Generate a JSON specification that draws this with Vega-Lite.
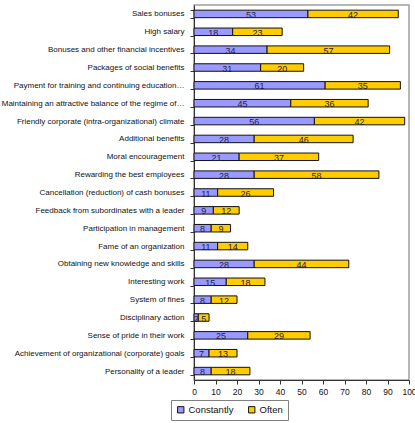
{
  "$schema": "https://vega.github.io/schema/vega-lite/v6.json",
  "description": "Stacked horizontal bars: how often each motivation method is used (Constantly / Often).",
  "autosize": "none",
  "padding": {"left": 194, "top": 5, "right": 6, "bottom": 43},
  "width": 215,
  "height": 375,
  "config": {
    "font": "Liberation Sans",
    "view": {"stroke": "#a0a0a0", "strokeWidth": 1.5},
    "axis": {"labelFont": "Liberation Sans", "labelFontSize": 8, "labelColor": "#111", "domainColor": "#333", "tickColor": "#333", "tickSize": 4, "grid": false},
    "axisX": {"labelOverlap": false, "labelFlush": false, "labelFontSize": 8.5, "labelPadding": 3}
  },
  "data": {
    "values": [
      {"item": "Sales bonuses", "series": "Constantly", "value": 53},
      {"item": "Sales bonuses", "series": "Often", "value": 42},
      {"item": "High salary", "series": "Constantly", "value": 18},
      {"item": "High salary", "series": "Often", "value": 23},
      {"item": "Bonuses and other financial incentives", "series": "Constantly", "value": 34},
      {"item": "Bonuses and other financial incentives", "series": "Often", "value": 57},
      {"item": "Packages of social benefits", "series": "Constantly", "value": 31},
      {"item": "Packages of social benefits", "series": "Often", "value": 20},
      {"item": "Payment for training and continuing education…", "series": "Constantly", "value": 61},
      {"item": "Payment for training and continuing education…", "series": "Often", "value": 35},
      {"item": "Maintaining an attractive balance of the regime of…", "series": "Constantly", "value": 45},
      {"item": "Maintaining an attractive balance of the regime of…", "series": "Often", "value": 36},
      {"item": "Friendly corporate (intra-organizational) climate", "series": "Constantly", "value": 56},
      {"item": "Friendly corporate (intra-organizational) climate", "series": "Often", "value": 42},
      {"item": "Additional benefits", "series": "Constantly", "value": 28},
      {"item": "Additional benefits", "series": "Often", "value": 46},
      {"item": "Moral encouragement", "series": "Constantly", "value": 21},
      {"item": "Moral encouragement", "series": "Often", "value": 37},
      {"item": "Rewarding the best employees", "series": "Constantly", "value": 28},
      {"item": "Rewarding the best employees", "series": "Often", "value": 58},
      {"item": "Cancellation (reduction) of cash bonuses", "series": "Constantly", "value": 11},
      {"item": "Cancellation (reduction) of cash bonuses", "series": "Often", "value": 26},
      {"item": "Feedback from subordinates with a leader", "series": "Constantly", "value": 9},
      {"item": "Feedback from subordinates with a leader", "series": "Often", "value": 12},
      {"item": "Participation in management", "series": "Constantly", "value": 8},
      {"item": "Participation in management", "series": "Often", "value": 9},
      {"item": "Fame of an organization", "series": "Constantly", "value": 11},
      {"item": "Fame of an organization", "series": "Often", "value": 14},
      {"item": "Obtaining new knowledge and skills", "series": "Constantly", "value": 28},
      {"item": "Obtaining new knowledge and skills", "series": "Often", "value": 44},
      {"item": "Interesting work", "series": "Constantly", "value": 15},
      {"item": "Interesting work", "series": "Often", "value": 18},
      {"item": "System of fines", "series": "Constantly", "value": 8},
      {"item": "System of fines", "series": "Often", "value": 12},
      {"item": "Disciplinary action", "series": "Constantly", "value": 2},
      {"item": "Disciplinary action", "series": "Often", "value": 5},
      {"item": "Sense of pride in their work", "series": "Constantly", "value": 25},
      {"item": "Sense of pride in their work", "series": "Often", "value": 29},
      {"item": "Achievement of organizational (corporate) goals", "series": "Constantly", "value": 7},
      {"item": "Achievement of organizational (corporate) goals", "series": "Often", "value": 13},
      {"item": "Personality of a leader", "series": "Constantly", "value": 8},
      {"item": "Personality of a leader", "series": "Often", "value": 18}
    ]
  },
  "encoding": {
    "y": {
      "field": "item",
      "type": "nominal",
      "title": null,
      "sort": [
        "Sales bonuses", "High salary", "Bonuses and other financial incentives", "Packages of social benefits",
        "Payment for training and continuing education…", "Maintaining an attractive balance of the regime of…",
        "Friendly corporate (intra-organizational) climate", "Additional benefits", "Moral encouragement",
        "Rewarding the best employees", "Cancellation (reduction) of cash bonuses", "Feedback from subordinates with a leader",
        "Participation in management", "Fame of an organization", "Obtaining new knowledge and skills", "Interesting work",
        "System of fines", "Disciplinary action", "Sense of pride in their work",
        "Achievement of organizational (corporate) goals", "Personality of a leader"
      ],
      "scale": {"paddingInner": 0.58, "paddingOuter": 0.29},
      "axis": {"tickBand": "extent", "labelPadding": 6, "labelLimit": 260}
    }
  },
  "layer": [
    {
      "mark": {"type": "bar", "stroke": "#111", "strokeWidth": 1},
      "encoding": {
        "x": {
          "field": "value",
          "type": "quantitative",
          "stack": "zero",
          "title": null,
          "scale": {"domain": [0, 100], "nice": false},
          "axis": {"values": [0, 10, 20, 30, 40, 50, 60, 70, 80, 90, 100], "labelOverlap": false}
        },
        "color": {
          "field": "series",
          "type": "nominal",
          "scale": {"domain": ["Constantly", "Often"], "range": ["#9999ff", "#ffcc00"]},
          "legend": {
            "title": null,
            "orient": "none",
            "direction": "horizontal",
            "legendX": -23,
            "legendY": 395,
            "strokeColor": "#808080",
            "padding": 5,
            "symbolType": "square",
            "symbolSize": 40,
            "symbolStrokeColor": "#111",
            "symbolStrokeWidth": 1,
            "symbolOpacity": 1,
            "labelFontSize": 9.5,
            "labelColor": "#111",
            "labelOffset": 3,
            "columnPadding": 12
          }
        },
        "order": {"field": "series", "sort": "ascending"}
      }
    },
    {
      "transform": [
        {"stack": "value", "groupby": ["item"], "sort": [{"field": "series", "order": "ascending"}], "as": ["lo", "hi"]},
        {"fold": ["lo", "hi"], "as": ["edge", "pos"]},
        {"aggregate": [{"op": "mean", "field": "pos", "as": "mid"}], "groupby": ["item", "series", "value"]}
      ],
      "mark": {"type": "text", "fontSize": 9, "color": "#222244", "baseline": "middle", "dy": 1},
      "encoding": {
        "x": {
          "field": "mid",
          "type": "quantitative",
          "title": null,
          "axis": {"values": [0, 10, 20, 30, 40, 50, 60, 70, 80, 90, 100], "labelOverlap": false}
        },
        "text": {"field": "value", "type": "quantitative"}
      }
    }
  ]
}
